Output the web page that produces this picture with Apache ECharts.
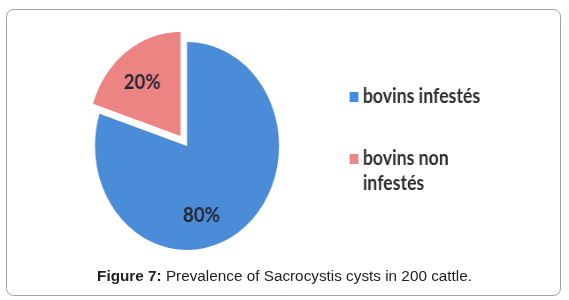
<!DOCTYPE html>
<html>
<head>
<meta charset="utf-8">
<script src="https://cdn.jsdelivr.net/npm/echarts@6/dist/echarts.min.js"></script>
<style>
  html, body { margin: 0; padding: 0; background: #fff; }
  #wrap { position: relative; width: 569px; height: 300px; overflow: hidden; }
  #base { position: absolute; left: 0; top: 0; width: 569px; height: 300px; }
  #pie { position: absolute; left: 0; top: 0; width: 643px; height: 300px;
         transform: scaleX(0.885); transform-origin: 0 0; }
</style>
</head>
<body>
<div id="wrap">
  <div id="base"></div>
  <div id="pie"></div>
</div>
<script>
// ---- data ----
const categories = ['bovins infestés', 'bovins non infestés'];
const values = [80, 20];
const sliceColors = ['#4a8cd8', '#ec8484'];
const legendColors = ['#3f8de3', '#e9888c'];
const captionBold = 'Figure 7:';
const captionText = 'Prevalence of Sacrocystis cysts in 200 cattle.';

// ---- base layer: frame + caption ----
const base = echarts.init(document.getElementById('base'), null, { renderer: 'canvas' });
base.setOption({
  backgroundColor: '#ffffff',
  animation: false,
  title: {
    text: '{b|' + captionBold + '} ' + captionText,
    left: 'center',
    top: 268,
    padding: 0,
    textStyle: {
      fontFamily: 'Liberation Sans, Arial, sans-serif',
      fontSize: 15.3,
      fontWeight: 'normal',
      color: '#222',
      lineHeight: 18,
      rich: {
        b: { fontFamily: 'Liberation Sans, Arial, sans-serif', fontSize: 15.3, fontWeight: 'bold', color: '#222', lineHeight: 18 }
      }
    }
  },
  graphic: [{
    type: 'rect',
    shape: { x: 6.5, y: 9.5, width: 554, height: 286, r: 7 },
    style: { fill: 'none', stroke: '#a0a0a0', lineWidth: 1 }
  }]
});

// ---- pie layer (horizontally scaled to give the elliptical pie) ----
const pie = echarts.init(document.getElementById('pie'), null, { renderer: 'canvas' });
const legendText = { fontFamily: 'Lato, Open Sans, sans-serif', fontSize: 20, fontWeight: 'bold', color: '#2e2e2e', lineHeight: 25 };
const labelOffsets = [[-16, 25], [0, 0]];
const labelPaddings = [0, [0, 22, 0, 0]];
const labelFormats = ['{c}%', '{c}%\n'];
pie.setOption({
  animation: false,
  legend: [{
    data: [{ name: categories[0], itemStyle: { color: legendColors[0] } }],
    orient: 'vertical', left: 395, top: 84.5, padding: 0,
    icon: 'rect', itemWidth: 10, itemHeight: 10,
    selectedMode: false,
    textStyle: legendText
  }, {
    data: [{ name: categories[1], itemStyle: { color: legendColors[1] } }],
    orient: 'vertical', left: 395, top: 121.5, padding: 0,
    icon: 'rect', itemWidth: 10, itemHeight: 10,
    selectedMode: false,
    formatter: function () { return '\nbovins non\ninfestés'; },
    textStyle: legendText
  }],
  series: [{
    type: 'pie',
    center: [211.3, 146],
    radius: 104,
    startAngle: 90,
    clockwise: true,
    selectedMode: 'single',
    selectedOffset: 12.5,
    emphasis: { disabled: true },
    labelLine: { show: false },
    data: categories.map(function (c, i) {
      return {
        name: c,
        value: values[i],
        selected: i === 1,
        itemStyle: { color: sliceColors[i] },
        label: {
          show: true,
          position: 'inside',
          formatter: labelFormats[i],
          offset: labelOffsets[i],
          padding: labelPaddings[i],
          fontFamily: 'Lato, Open Sans, sans-serif',
          fontSize: 21,
          lineHeight: 18,
          fontWeight: 'bold',
          color: '#262733'
        }
      };
    })
  }]
});
</script>
</body>
</html>
